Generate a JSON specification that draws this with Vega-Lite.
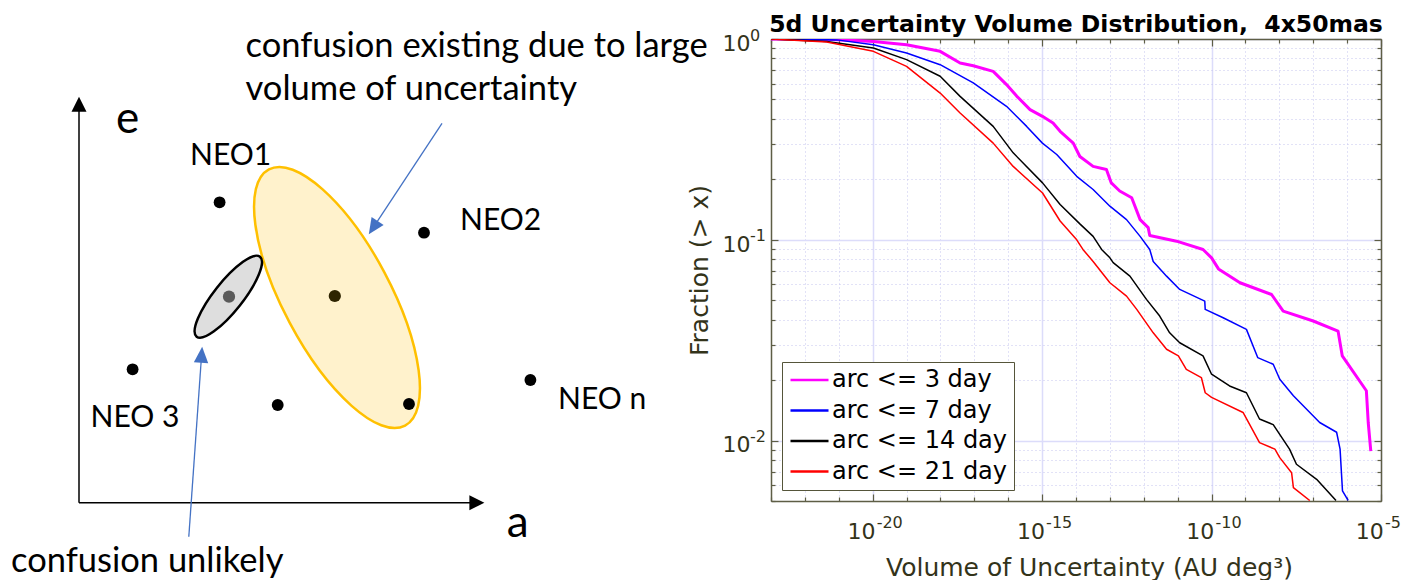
{
  "$schema": "https://vega.github.io/schema/vega-lite/v6.json",
  "padding": {"left": 0, "top": 13, "right": 0, "bottom": 0},
  "bounds": "flush",
  "spacing": 66,
  "background": "white",
  "config": {"view": {"stroke": null}, "font": "DejaVu Sans"},
  "resolve": {"scale": {"color": "independent"}, "legend": {"color": "independent"}},
  "datasets": {
    "curves": [
      {"arc": "arc <= 3 day", "vol": 1e-23, "frac": 1.0},
      {"arc": "arc <= 3 day", "vol": 4.4e-22, "frac": 0.998},
      {"arc": "arc <= 3 day", "vol": 1.05e-20, "frac": 0.973},
      {"arc": "arc <= 3 day", "vol": 1.0e-19, "frac": 0.937},
      {"arc": "arc <= 3 day", "vol": 9.8e-19, "frac": 0.868},
      {"arc": "arc <= 3 day", "vol": 3.8e-18, "frac": 0.76},
      {"arc": "arc <= 3 day", "vol": 9.3e-18, "frac": 0.736},
      {"arc": "arc <= 3 day", "vol": 3.6e-17, "frac": 0.69},
      {"arc": "arc <= 3 day", "vol": 8.9e-17, "frac": 0.593},
      {"arc": "arc <= 3 day", "vol": 1.8e-16, "frac": 0.518},
      {"arc": "arc <= 3 day", "vol": 4.4e-16, "frac": 0.445},
      {"arc": "arc <= 3 day", "vol": 1.02e-15, "frac": 0.412},
      {"arc": "arc <= 3 day", "vol": 2.1e-15, "frac": 0.382},
      {"arc": "arc <= 3 day", "vol": 3.4e-15, "frac": 0.347},
      {"arc": "arc <= 3 day", "vol": 8.3e-15, "frac": 0.303},
      {"arc": "arc <= 3 day", "vol": 1.3e-14, "frac": 0.26},
      {"arc": "arc <= 3 day", "vol": 3.2e-14, "frac": 0.232},
      {"arc": "arc <= 3 day", "vol": 7.9e-14, "frac": 0.224},
      {"arc": "arc <= 3 day", "vol": 1.1e-13, "frac": 0.192},
      {"arc": "arc <= 3 day", "vol": 1.95e-13, "frac": 0.175},
      {"arc": "arc <= 3 day", "vol": 4.4e-13, "frac": 0.162},
      {"arc": "arc <= 3 day", "vol": 7.8e-13, "frac": 0.126},
      {"arc": "arc <= 3 day", "vol": 1.35e-12, "frac": 0.115},
      {"arc": "arc <= 3 day", "vol": 1.5e-12, "frac": 0.105},
      {"arc": "arc <= 3 day", "vol": 9.3e-12, "frac": 0.0984},
      {"arc": "arc <= 3 day", "vol": 5.6e-11, "frac": 0.0895},
      {"arc": "arc <= 3 day", "vol": 1.0e-10, "frac": 0.0813},
      {"arc": "arc <= 3 day", "vol": 1.6e-10, "frac": 0.0716},
      {"arc": "arc <= 3 day", "vol": 6.9e-10, "frac": 0.0611},
      {"arc": "arc <= 3 day", "vol": 5.9e-9, "frac": 0.0534},
      {"arc": "arc <= 3 day", "vol": 1.3e-8, "frac": 0.0441},
      {"arc": "arc <= 3 day", "vol": 1.0e-7, "frac": 0.0394},
      {"arc": "arc <= 3 day", "vol": 5.4e-7, "frac": 0.0351},
      {"arc": "arc <= 3 day", "vol": 7.2e-7, "frac": 0.0264},
      {"arc": "arc <= 3 day", "vol": 3.7e-6, "frac": 0.0177},
      {"arc": "arc <= 3 day", "vol": 4.2e-6, "frac": 0.0123},
      {"arc": "arc <= 3 day", "vol": 5.0e-6, "frac": 0.00887},
      {"arc": "arc <= 7 day", "vol": 1e-23, "frac": 1.0},
      {"arc": "arc <= 7 day", "vol": 8.7e-22, "frac": 0.99},
      {"arc": "arc <= 7 day", "vol": 1.05e-20, "frac": 0.937},
      {"arc": "arc <= 7 day", "vol": 1.0e-19, "frac": 0.852},
      {"arc": "arc <= 7 day", "vol": 9.8e-19, "frac": 0.745},
      {"arc": "arc <= 7 day", "vol": 9.3e-18, "frac": 0.604},
      {"arc": "arc <= 7 day", "vol": 8.9e-17, "frac": 0.462},
      {"arc": "arc <= 7 day", "vol": 3.5e-16, "frac": 0.367},
      {"arc": "arc <= 7 day", "vol": 1.02e-15, "frac": 0.303},
      {"arc": "arc <= 7 day", "vol": 2.7e-15, "frac": 0.266},
      {"arc": "arc <= 7 day", "vol": 1.05e-14, "frac": 0.207},
      {"arc": "arc <= 7 day", "vol": 3.2e-14, "frac": 0.178},
      {"arc": "arc <= 7 day", "vol": 1.0e-13, "frac": 0.147},
      {"arc": "arc <= 7 day", "vol": 3.1e-13, "frac": 0.126},
      {"arc": "arc <= 7 day", "vol": 7.8e-13, "frac": 0.104},
      {"arc": "arc <= 7 day", "vol": 1.5e-12, "frac": 0.0895},
      {"arc": "arc <= 7 day", "vol": 1.9e-12, "frac": 0.078},
      {"arc": "arc <= 7 day", "vol": 4.7e-12, "frac": 0.0659},
      {"arc": "arc <= 7 day", "vol": 1.15e-11, "frac": 0.0566},
      {"arc": "arc <= 7 day", "vol": 6.3e-11, "frac": 0.0495},
      {"arc": "arc <= 7 day", "vol": 6.5e-11, "frac": 0.045},
      {"arc": "arc <= 7 day", "vol": 2.2e-10, "frac": 0.0409},
      {"arc": "arc <= 7 day", "vol": 1.07e-9, "frac": 0.0358},
      {"arc": "arc <= 7 day", "vol": 2.3e-9, "frac": 0.0259},
      {"arc": "arc <= 7 day", "vol": 6.6e-9, "frac": 0.024},
      {"arc": "arc <= 7 day", "vol": 1.03e-8, "frac": 0.0202},
      {"arc": "arc <= 7 day", "vol": 2.6e-8, "frac": 0.0167},
      {"arc": "arc <= 7 day", "vol": 1.55e-7, "frac": 0.0123},
      {"arc": "arc <= 7 day", "vol": 4.9e-7, "frac": 0.011},
      {"arc": "arc <= 7 day", "vol": 6.2e-7, "frac": 0.00906},
      {"arc": "arc <= 7 day", "vol": 7.3e-7, "frac": 0.00562},
      {"arc": "arc <= 7 day", "vol": 1.07e-6, "frac": 0.00503},
      {"arc": "arc <= 14 day", "vol": 1e-23, "frac": 1.0},
      {"arc": "arc <= 14 day", "vol": 4.4e-22, "frac": 0.973},
      {"arc": "arc <= 14 day", "vol": 1.05e-20, "frac": 0.902},
      {"arc": "arc <= 14 day", "vol": 1.0e-19, "frac": 0.789},
      {"arc": "arc <= 14 day", "vol": 9.8e-19, "frac": 0.652},
      {"arc": "arc <= 14 day", "vol": 3.8e-18, "frac": 0.518},
      {"arc": "arc <= 14 day", "vol": 3.6e-17, "frac": 0.367},
      {"arc": "arc <= 14 day", "vol": 1.4e-16, "frac": 0.271},
      {"arc": "arc <= 14 day", "vol": 1.03e-15, "frac": 0.192},
      {"arc": "arc <= 14 day", "vol": 3.4e-15, "frac": 0.15},
      {"arc": "arc <= 14 day", "vol": 1.3e-14, "frac": 0.12},
      {"arc": "arc <= 14 day", "vol": 3.2e-14, "frac": 0.104},
      {"arc": "arc <= 14 day", "vol": 5.7e-14, "frac": 0.0895},
      {"arc": "arc <= 14 day", "vol": 1.0e-13, "frac": 0.0813},
      {"arc": "arc <= 14 day", "vol": 1.25e-13, "frac": 0.0769},
      {"arc": "arc <= 14 day", "vol": 3.9e-13, "frac": 0.0659},
      {"arc": "arc <= 14 day", "vol": 1.2e-12, "frac": 0.0505},
      {"arc": "arc <= 14 day", "vol": 2.95e-12, "frac": 0.0417},
      {"arc": "arc <= 14 day", "vol": 5.8e-12, "frac": 0.0344},
      {"arc": "arc <= 14 day", "vol": 1.15e-11, "frac": 0.0307},
      {"arc": "arc <= 14 day", "vol": 5.6e-11, "frac": 0.0264},
      {"arc": "arc <= 14 day", "vol": 1.0e-10, "frac": 0.0214},
      {"arc": "arc <= 14 day", "vol": 3.4e-10, "frac": 0.0187},
      {"arc": "arc <= 14 day", "vol": 1.07e-9, "frac": 0.0173},
      {"arc": "arc <= 14 day", "vol": 2.6e-9, "frac": 0.0128},
      {"arc": "arc <= 14 day", "vol": 6.6e-9, "frac": 0.012},
      {"arc": "arc <= 14 day", "vol": 2.0e-8, "frac": 0.00906},
      {"arc": "arc <= 14 day", "vol": 3.2e-8, "frac": 0.00762},
      {"arc": "arc <= 14 day", "vol": 1.26e-7, "frac": 0.00641},
      {"arc": "arc <= 14 day", "vol": 4.7e-7, "frac": 0.00503},
      {"arc": "arc <= 21 day", "vol": 1e-23, "frac": 1.0},
      {"arc": "arc <= 21 day", "vol": 4.4e-22, "frac": 0.965},
      {"arc": "arc <= 21 day", "vol": 1.05e-20, "frac": 0.868},
      {"arc": "arc <= 21 day", "vol": 1.0e-19, "frac": 0.731},
      {"arc": "arc <= 21 day", "vol": 9.8e-19, "frac": 0.538},
      {"arc": "arc <= 21 day", "vol": 3.8e-18, "frac": 0.428},
      {"arc": "arc <= 21 day", "vol": 3.6e-17, "frac": 0.303},
      {"arc": "arc <= 21 day", "vol": 1.4e-16, "frac": 0.232},
      {"arc": "arc <= 21 day", "vol": 1.03e-15, "frac": 0.171},
      {"arc": "arc <= 21 day", "vol": 3.4e-15, "frac": 0.124},
      {"arc": "arc <= 21 day", "vol": 1.05e-14, "frac": 0.1},
      {"arc": "arc <= 21 day", "vol": 1.6e-14, "frac": 0.0895},
      {"arc": "arc <= 21 day", "vol": 3.2e-14, "frac": 0.078},
      {"arc": "arc <= 21 day", "vol": 1.0e-13, "frac": 0.0611},
      {"arc": "arc <= 21 day", "vol": 3.1e-13, "frac": 0.0524},
      {"arc": "arc <= 21 day", "vol": 6.2e-13, "frac": 0.045},
      {"arc": "arc <= 21 day", "vol": 1.9e-12, "frac": 0.0344},
      {"arc": "arc <= 21 day", "vol": 4.7e-12, "frac": 0.0285},
      {"arc": "arc <= 21 day", "vol": 1.05e-11, "frac": 0.0264},
      {"arc": "arc <= 21 day", "vol": 1.8e-11, "frac": 0.0226},
      {"arc": "arc <= 21 day", "vol": 5.0e-11, "frac": 0.0206},
      {"arc": "arc <= 21 day", "vol": 6.5e-11, "frac": 0.0173},
      {"arc": "arc <= 21 day", "vol": 1.0e-10, "frac": 0.0164},
      {"arc": "arc <= 21 day", "vol": 8.5e-10, "frac": 0.0138},
      {"arc": "arc <= 21 day", "vol": 2.6e-9, "frac": 0.00977},
      {"arc": "arc <= 21 day", "vol": 7.4e-9, "frac": 0.00906},
      {"arc": "arc <= 21 day", "vol": 1.03e-8, "frac": 0.00822},
      {"arc": "arc <= 21 day", "vol": 2.3e-8, "frac": 0.00692},
      {"arc": "arc <= 21 day", "vol": 2.6e-8, "frac": 0.00583},
      {"arc": "arc <= 21 day", "vol": 7.9e-8, "frac": 0.00503}
    ],
    "xexp": [
      {"vol": 1e-20, "exp": "-20"},
      {"vol": 1e-15, "exp": "-15"},
      {"vol": 1e-10, "exp": "-10"},
      {"vol": 1e-5, "exp": "-5"}
    ],
    "yexp": [
      {"frac": 1, "exp": "0"},
      {"frac": 0.1, "exp": "-1"},
      {"frac": 0.01, "exp": "-2"}
    ],
    "dots": [
      {"a": 219.6, "e": 202.3, "kind": "object"},
      {"a": 424, "e": 232.7, "kind": "object"},
      {"a": 132.6, "e": 369.3, "kind": "object"},
      {"a": 277.7, "e": 405, "kind": "object"},
      {"a": 409, "e": 404, "kind": "object"},
      {"a": 530.4, "e": 380, "kind": "object"},
      {"a": 334.8, "e": 296, "kind": "large"},
      {"a": 229, "e": 296.7, "kind": "small"}
    ],
    "ellipses": [
      {"a": 337, "e": 297.5, "kind": "large"},
      {"a": 228.3, "e": 296.7, "kind": "small"}
    ],
    "axislines": [
      {"a": 79, "e": 502.7, "a2": 79, "e2": 104},
      {"a": 79, "e": 502.7, "a2": 477, "e2": 502.7}
    ],
    "heads": [
      {"a": 79, "e": 104.2, "id": "e"},
      {"a": 476.9, "e": 502.7, "id": "a"}
    ],
    "pointers": [
      {"a": 442, "e": 123.3, "a2": 373.2, "e2": 227.6, "id": "large"},
      {"a": 188.8, "e": 536.7, "a2": 201.6, "e2": 354.7, "id": "small"}
    ],
    "labels": [
      {"a": 116, "e": 133.3, "text": "e", "grp": "axis"},
      {"a": 506.7, "e": 537, "text": "a", "grp": "axis"},
      {"a": 190, "e": 165, "text": "NEO1", "grp": "neo"},
      {"a": 460, "e": 230, "text": "NEO2", "grp": "neo"},
      {"a": 90.6, "e": 426.7, "text": "NEO 3", "grp": "neo"},
      {"a": 558, "e": 409.3, "text": "NEO n", "grp": "neo"},
      {"a": 245.5, "e": 56.7, "text": "confusion existing due to large", "grp": "note"},
      {"a": 245.5, "e": 100, "text": "volume of uncertainty", "grp": "note"},
      {"a": 11, "e": 571.7, "text": "confusion unlikely", "grp": "note"}
    ]
  },
  "hconcat": [
    {
      "width": 705,
      "height": 462,
      "encoding": {
        "x": {"field": "a", "type": "quantitative", "scale": {"domain": [0, 705], "nice": false, "zero": false}, "axis": null},
        "y": {"field": "e", "type": "quantitative", "scale": {"domain": [39, 501], "nice": false, "zero": false, "reverse": true}, "axis": null}
      },
      "layer": [
        {
          "data": {"name": "ellipses"},
          "transform": [{"filter": "datum.kind == 'large'"}],
          "mark": {"type": "point", "shape": "M 0 -1 C 0.2044 -1 0.37 -0.5523 0.37 0 C 0.37 0.5523 0.2044 1 0 1 C -0.2044 1 -0.37 0.5523 -0.37 0 C -0.37 -0.5523 -0.2044 -1 0 -1 Z", "size": 84100, "angle": 332, "filled": true, "fill": "#fff2cc", "stroke": "#ffc000", "strokeWidth": 2.5, "opacity": 1, "fillOpacity": 1, "strokeOpacity": 1}
        },
        {
          "data": {"name": "ellipses"},
          "transform": [{"filter": "datum.kind == 'small'"}],
          "mark": {"type": "point", "shape": "M 0 -1 C 0.157 -1 0.284 -0.5523 0.284 0 C 0.284 0.5523 0.157 1 0 1 C -0.157 1 -0.284 0.5523 -0.284 0 C -0.284 -0.5523 -0.157 -1 0 -1 Z", "size": 10404, "angle": 38.4, "filled": true, "fill": "#dedede", "stroke": "#000000", "strokeWidth": 2.5, "opacity": 1, "fillOpacity": 1, "strokeOpacity": 1}
        },
        {
          "data": {"name": "dots"},
          "transform": [{"filter": "datum.kind == 'object'"}],
          "mark": {"type": "point", "shape": "circle", "filled": true, "size": 140, "opacity": 1, "color": "#000000"}
        },
        {
          "data": {"name": "dots"},
          "transform": [{"filter": "datum.kind == 'large'"}],
          "mark": {"type": "point", "shape": "circle", "filled": true, "size": 150, "opacity": 1, "color": "#2e2400"}
        },
        {
          "data": {"name": "dots"},
          "transform": [{"filter": "datum.kind == 'small'"}],
          "mark": {"type": "point", "shape": "circle", "filled": true, "size": 150, "opacity": 1, "color": "#5a5a5a"}
        },
        {
          "data": {"name": "axislines"},
          "mark": {"type": "rule", "color": "#000000", "strokeWidth": 1.5},
          "encoding": {"x2": {"field": "a2"}, "y2": {"field": "e2"}}
        },
        {
          "data": {"name": "heads"},
          "transform": [{"filter": "datum.id == 'e'"}],
          "mark": {"type": "point", "shape": "M 0 -1 L 1 1 L -1 1 Z", "size": 225, "angle": 0, "filled": true, "color": "#000000", "opacity": 1}
        },
        {
          "data": {"name": "heads"},
          "transform": [{"filter": "datum.id == 'a'"}],
          "mark": {"type": "point", "shape": "M 0 -1 L 1 1 L -1 1 Z", "size": 225, "angle": 90, "filled": true, "color": "#000000", "opacity": 1}
        },
        {
          "data": {"name": "pointers"},
          "mark": {"type": "rule", "color": "#4472c4", "strokeWidth": 1.3},
          "encoding": {"x2": {"field": "a2"}, "y2": {"field": "e2"}}
        },
        {
          "data": {"name": "pointers"},
          "transform": [{"filter": "datum.id == 'large'"}],
          "mark": {"type": "point", "shape": "M 0 -1 L 0.9 1 L -0.9 1 Z", "size": 256, "angle": 213.4, "filled": true, "color": "#4472c4", "opacity": 1},
          "encoding": {"x": {"field": "a2", "type": "quantitative"}, "y": {"field": "e2", "type": "quantitative"}}
        },
        {
          "data": {"name": "pointers"},
          "transform": [{"filter": "datum.id == 'small'"}],
          "mark": {"type": "point", "shape": "M 0 -1 L 0.9 1 L -0.9 1 Z", "size": 256, "angle": 4, "filled": true, "color": "#4472c4", "opacity": 1},
          "encoding": {"x": {"field": "a2", "type": "quantitative"}, "y": {"field": "e2", "type": "quantitative"}}
        },
        {
          "data": {"name": "labels"},
          "transform": [{"filter": "datum.grp == 'axis'"}],
          "mark": {"type": "text", "font": "Lato", "fontSize": 44, "align": "left", "baseline": "alphabetic", "color": "#000000"},
          "encoding": {"text": {"field": "text"}}
        },
        {
          "data": {"name": "labels"},
          "transform": [{"filter": "datum.grp == 'neo'"}],
          "mark": {"type": "text", "font": "Lato", "fontSize": 30, "align": "left", "baseline": "alphabetic", "color": "#000000"},
          "encoding": {"text": {"field": "text"}}
        },
        {
          "data": {"name": "labels"},
          "transform": [{"filter": "datum.grp == 'note'"}],
          "mark": {"type": "text", "font": "Lato", "fontSize": 34.5, "align": "left", "baseline": "alphabetic", "color": "#000000"},
          "encoding": {"text": {"field": "text"}}
        }
      ]
    },
    {
      "width": 610,
      "height": 462,
      "title": {"text": "5d Uncertainty Volume Distribution,\u00a0 4x50mas", "font": "DejaVu Sans", "fontSize": 23.5, "fontWeight": "bold", "color": "#000000", "anchor": "middle", "frame": "group", "offset": -9},
      "layer": [
        {
          "data": {"name": "curves"},
          "transform": [{"filter": "datum.arc == 'arc <= 3 day'"}],
          "mark": {"type": "line", "clip": true, "strokeJoin": "round", "strokeWidth": 3},
          "encoding": {
            "x": {
              "field": "vol", "type": "quantitative",
              "scale": {"type": "log", "domain": [1e-23, 1e-5], "nice": false},
              "axis": {
                "orient": "bottom",
                "values": [1e-23, 1e-22, 1e-21, 1e-20, 1e-19, 1e-18, 1e-17, 1e-16, 1e-15, 1e-14, 1e-13, 1e-12, 1e-11, 1e-10, 1e-9, 1e-8, 1e-7, 1e-6, 1e-5],
                "labelExpr": "datum.value == 1e-20 || datum.value == 1e-15 || datum.value == 1e-10 || datum.value == 1e-5 ? '10' : ''",
                "labelFont": "DejaVu Sans", "labelFontSize": 22, "labelColor": "#33331a",
                "labelFlush": false, "labelOverlap": false, "labelBound": false,
                "labelAlign": "right", "labelOffset": 2.3,
                "labelBaseline": "alphabetic", "labelPadding": 44,
                "title": "Volume of Uncertainty (AU deg³)",
                "titleFont": "DejaVu Sans", "titleFontSize": 25, "titleFontWeight": "normal", "titleColor": "#33331a", "titlePadding": 10, "titleX": 318,
                "grid": true,
                "gridColor": {"condition": {"test": "abs(round(log(datum.value)/LN10)) % 5 == 0", "value": "#dcdcfa"}, "value": "#c4c4ee"},
                "gridDash": {"condition": {"test": "abs(round(log(datum.value)/LN10)) % 5 == 0", "value": []}, "value": [1, 3]},
                "gridWidth": {"condition": {"test": "abs(round(log(datum.value)/LN10)) % 5 == 0", "value": 1.5}, "value": 1},
                "ticks": true,
                "tickSize": {"condition": {"test": "abs(round(log(datum.value)/LN10)) % 5 == 0", "value": -7}, "value": -4},
                "tickColor": "#5e5e46", "tickWidth": 1.2,
                "domainColor": "#5e5e46", "domainWidth": 1.5
              }
            },
            "y": {
              "field": "frac", "type": "quantitative",
              "scale": {"type": "log", "domain": [0.005, 1], "nice": false},
              "axis": {
                "orient": "left",
                "values": [0.005, 0.006, 0.007, 0.008, 0.009, 0.01, 0.02, 0.03, 0.04, 0.05, 0.06, 0.07, 0.08, 0.09, 0.1, 0.2, 0.3, 0.4, 0.5, 0.6, 0.7, 0.8, 0.9, 1],
                "labelExpr": "datum.value == 1 || datum.value == 0.1 || datum.value == 0.01 ? '10' : ''",
                "labelFont": "DejaVu Sans", "labelFontSize": 22, "labelColor": "#33331a",
                "labelFlush": false, "labelOverlap": false, "labelBound": false,
                "labelAlign": "right", "labelBaseline": "alphabetic", "labelOffset": 11.4, "labelPadding": 28,
                "title": "Fraction (> x)",
                "titleFont": "DejaVu Sans", "titleFontSize": 25, "titleFontWeight": "normal", "titleColor": "#33331a", "titlePadding": 10,
                "grid": true,
                "gridColor": {"condition": {"test": "abs(log(datum.value)/LN10 - round(log(datum.value)/LN10)) < 0.001", "value": "#dcdcfa"}, "value": "#c4c4ee"},
                "gridDash": {"condition": {"test": "abs(log(datum.value)/LN10 - round(log(datum.value)/LN10)) < 0.001", "value": []}, "value": [1, 3]},
                "gridWidth": {"condition": {"test": "abs(log(datum.value)/LN10 - round(log(datum.value)/LN10)) < 0.001", "value": 1.5}, "value": 1},
                "ticks": true,
                "tickSize": {"condition": {"test": "abs(log(datum.value)/LN10 - round(log(datum.value)/LN10)) < 0.001", "value": -7}, "value": -4},
                "tickColor": "#5e5e46", "tickWidth": 1.2,
                "domainColor": "#5e5e46", "domainWidth": 1.5
              }
            },
            "color": {
              "field": "arc", "type": "nominal",
              "scale": {"domain": ["arc <= 3 day", "arc <= 7 day", "arc <= 14 day", "arc <= 21 day"], "range": ["#ff00ff", "#0000ff", "#000000", "#ff0000"]},
              "legend": {
                "title": null, "orient": "bottom-left", "offset": 11,
                "symbolType": "M -1 0 H 3", "symbolSize": 361, "symbolStrokeWidth": 2.5,
                "labelFont": "DejaVu Sans", "labelFontSize": 24, "labelColor": "#000000", "labelOffset": 20, "labelLimit": 400,
                "rowPadding": 6.5, "padding": 6,
                "strokeColor": "#55553a", "fillColor": "#ffffff", "cornerRadius": 0,
                "encode": {"symbols": {"update": {"strokeWidth": {"value": 2.5}}}}
              }
            }
          }
        },
        {
          "data": {"name": "curves"},
          "transform": [{"filter": "datum.arc != 'arc <= 3 day'"}],
          "mark": {"type": "line", "clip": true, "strokeJoin": "round", "strokeWidth": 1.5},
          "encoding": {
            "x": {"field": "vol", "type": "quantitative", "scale": {"type": "log", "domain": [1e-23, 1e-5], "nice": false}, "axis": null},
            "y": {"field": "frac", "type": "quantitative", "scale": {"type": "log", "domain": [0.005, 1], "nice": false}, "axis": null},
            "color": {
              "field": "arc", "type": "nominal",
              "scale": {"domain": ["arc <= 3 day", "arc <= 7 day", "arc <= 14 day", "arc <= 21 day"], "range": ["#ff00ff", "#0000ff", "#000000", "#ff0000"]},
              "legend": {
                "title": null, "orient": "bottom-left", "offset": 11,
                "symbolType": "M -1 0 H 3", "symbolSize": 361, "symbolStrokeWidth": 2.5,
                "labelFont": "DejaVu Sans", "labelFontSize": 24, "labelColor": "#000000", "labelOffset": 20, "labelLimit": 400,
                "rowPadding": 6.5, "padding": 6,
                "strokeColor": "#55553a", "fillColor": "#ffffff", "cornerRadius": 0,
                "encode": {"symbols": {"update": {"strokeWidth": {"value": 2.5}}}}
              }
            }
          }
        },
        {
          "data": {"name": "curves"},
          "mark": {"type": "point", "opacity": 0},
          "encoding": {
            "x": {
              "field": "vol", "type": "quantitative",
              "scale": {"type": "log", "domain": [1e-23, 1e-5], "nice": false},
              "axis": {
                "orient": "top", "title": null, "labels": false, "grid": false,
                "values": [1e-23, 1e-22, 1e-21, 1e-20, 1e-19, 1e-18, 1e-17, 1e-16, 1e-15, 1e-14, 1e-13, 1e-12, 1e-11, 1e-10, 1e-9, 1e-8, 1e-7, 1e-6, 1e-5],
                "ticks": true,
                "tickSize": {"condition": {"test": "abs(round(log(datum.value)/LN10)) % 5 == 0", "value": -7}, "value": -4},
                "tickColor": "#5e5e46", "tickWidth": 1.2,
                "domainColor": "#5e5e46", "domainWidth": 1.5
              }
            },
            "y": {
              "field": "frac", "type": "quantitative",
              "scale": {"type": "log", "domain": [0.005, 1], "nice": false},
              "axis": {
                "orient": "right", "title": null, "labels": false, "grid": false,
                "values": [0.005, 0.006, 0.007, 0.008, 0.009, 0.01, 0.02, 0.03, 0.04, 0.05, 0.06, 0.07, 0.08, 0.09, 0.1, 0.2, 0.3, 0.4, 0.5, 0.6, 0.7, 0.8, 0.9, 1],
                "ticks": true,
                "tickSize": {"condition": {"test": "abs(log(datum.value)/LN10 - round(log(datum.value)/LN10)) < 0.001", "value": -7}, "value": -4},
                "tickColor": "#5e5e46", "tickWidth": 1.2,
                "domainColor": "#5e5e46", "domainWidth": 1.5
              }
            }
          }
        },
        {
          "data": {"name": "xexp"},
          "mark": {"type": "text", "font": "DejaVu Sans", "fontSize": 16, "align": "left", "baseline": "alphabetic", "dx": 4, "dy": 27, "color": "#33331a"},
          "encoding": {
            "x": {"field": "vol", "type": "quantitative", "axis": null},
            "y": {"datum": 0.005, "type": "quantitative", "axis": null},
            "text": {"field": "exp"}
          }
        },
        {
          "data": {"name": "yexp"},
          "mark": {"type": "text", "font": "DejaVu Sans", "fontSize": 16, "align": "left", "baseline": "alphabetic", "dx": -21, "dy": 1.5, "color": "#33331a"},
          "encoding": {
            "x": {"datum": 1e-23, "type": "quantitative", "axis": null},
            "y": {"field": "frac", "type": "quantitative", "axis": null},
            "text": {"field": "exp"}
          }
        }
      ],
      "resolve": {"axis": {"x": "independent", "y": "independent"}}
    }
  ]
}
